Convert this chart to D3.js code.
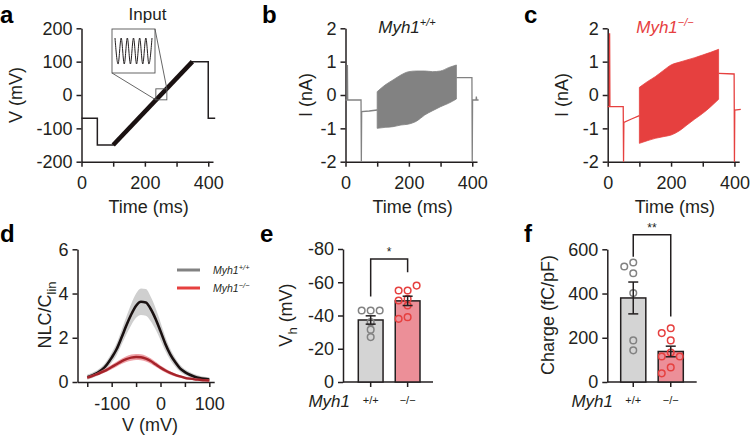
<!DOCTYPE html>
<html><head><meta charset="utf-8">
<script src="https://cdn.jsdelivr.net/npm/d3@7"></script>
<style>
body{margin:0;background:#fff;}
svg text{font-family:"Liberation Sans", Arial, sans-serif;}
</style></head><body>
<svg id="c" width="750" height="440"></svg>
<script>
// ---------- DATA ----------
// panel a: command voltage
const cmdT = [0, 50, 50, 100, 350, 400, 400, 422];
const cmdV = [-70, -70, -150, -150, 100, 100, -70, -70];
const rampT = [100, 350];
const rampV = [-150, 100];
const insetWave = [1, -1, 1, -1, 1, -1, 1, -1, 1, -1, 1, -1, 1];
const zoomAt = [252, 2]; // ms, mV of the magnified spot
const aYTicks = [-200, -100, 0, 100, 200];
const timeTicks = [0, 100, 200, 300, 400];
const timeTickLabels = ["0", "", "200", "", "400"];

// panel b: Myh1+/+ current
const bPreT = [0, 5, 6, 7, 49, 50, 51, 75, 100];
const bPreI = [-0.15, -0.15, 0.9, -0.15, -0.15, -2.0, -0.5, -0.48, -0.45];
const bandT = [100, 125, 150, 175, 200, 225, 250, 275, 300, 325, 350];
const bTop = [0.1, 0.3, 0.45, 0.6, 0.7, 0.72, 0.72, 0.7, 0.72, 0.82, 0.9];
const bBot = [-1.0, -0.97, -0.95, -0.9, -0.87, -0.78, -0.6, -0.47, -0.35, -0.25, -0.12];
const bPostT = [350, 399, 400, 401, 412, 413, 414, 420];
const bPostI = [0.52, 0.52, -2.0, -0.15, -0.15, -0.05, -0.15, -0.15];

// panel c: Myh1-/- current
const cPreT = [0, 5, 6, 7, 49, 50, 51, 75, 100];
const cPreI = [-0.35, -0.35, 1.85, -0.35, -0.35, -2.0, -0.82, -0.72, -0.62];
const cTop = [0.23, 0.4, 0.55, 0.73, 0.9, 0.98, 1.05, 1.12, 1.2, 1.28, 1.37];
const cBot = [-1.45, -1.37, -1.3, -1.25, -1.2, -1.08, -0.9, -0.72, -0.55, -0.35, -0.13];
const cPostT = [350, 399, 400, 401, 420];
const cPostI = [0.65, 0.63, -2.0, -0.45, -0.43];
const iTicks = [-2, -1, 0, 1, 2];

// panel d: NLC
const dV = [-150,-140,-130,-120,-110,-100,-90,-80,-70,-60,-50,-40,-30,-20,-10,0,10,20,30,40,50,60,70,80,90,100];
const wtMean = [0.22,0.30,0.40,0.55,0.78,1.10,1.48,2.00,2.55,3.05,3.45,3.63,3.60,3.30,2.85,2.30,1.72,1.25,0.90,0.62,0.45,0.33,0.24,0.18,0.14,0.11];
const wtHi = [0.34,0.42,0.53,0.70,0.96,1.32,1.75,2.33,2.95,3.53,4.00,4.23,4.20,3.85,3.33,2.70,2.04,1.50,1.10,0.78,0.58,0.45,0.35,0.28,0.24,0.21];
const wtLo = [0.10,0.18,0.27,0.40,0.60,0.88,1.21,1.67,2.15,2.57,2.90,3.03,3.00,2.75,2.37,1.90,1.40,1.00,0.70,0.46,0.32,0.21,0.13,0.08,0.04,0.01];
const koMean = [0.20,0.27,0.35,0.45,0.55,0.68,0.80,0.93,1.03,1.10,1.13,1.12,1.06,0.95,0.80,0.65,0.52,0.41,0.32,0.25,0.19,0.15,0.12,0.10,0.08,0.07];
const koHi = [0.26,0.33,0.42,0.53,0.64,0.78,0.91,1.05,1.16,1.24,1.27,1.26,1.19,1.07,0.91,0.75,0.61,0.49,0.39,0.31,0.25,0.20,0.17,0.15,0.13,0.12];
const koLo = [0.14,0.21,0.28,0.37,0.46,0.58,0.69,0.81,0.90,0.96,0.99,0.98,0.93,0.83,0.69,0.55,0.43,0.33,0.25,0.19,0.13,0.10,0.07,0.05,0.03,0.02];
const dXTicks = [-150, -100, -50, 0, 50, 100];
const dXLabels = ["", "-100", "", "0", "", "100"];
const dYTicks = [0, 2, 4, 6];

// panels e, f
const genotypes = ["+/+", "\u2212/\u2212"];
const eMean = [-37.3, -48.8];
const eSem = [2.5, 2.8];
const eWT = [-43, -43, -43, -36, -31.5, -27];
const eKO = [-55, -55, -58, -50, -49, -46, -39, -38];
const eYTicks = [0, -20, -40, -60, -80];
const fMean = [380, 138];
const fSem = [72, 24];
const fWT = [540, 522, 492, 402, 188, 143];
const fKO = [243, 221, 188, 133, 115, 115, 66, 39];
const fYTicks = [0, 200, 400, 600];

// ---------- DRAW ----------
const INK = "#231f20", GREY = "#828282", RED = "#e6403f";
const FONT = '"Liberation Sans", Arial, sans-serif';
const svg = d3.select("#c");

function styleAxis(g, fs) {
  g.attr("font-family", FONT);
  g.select(".domain").attr("stroke", INK).attr("stroke-width", 1.5);
  g.selectAll(".tick line").attr("stroke", INK).attr("stroke-width", 1.5);
  g.selectAll(".tick text").attr("fill", INK).attr("font-size", fs);
}
function letter(txt, x, y) {
  svg.append("text").attr("x", x).attr("y", y).text(txt)
    .attr("font-size", 24).attr("font-weight", "bold").attr("fill", "#000");
}
function yTitle(x, y, build) {
  const t = svg.append("text").attr("transform", `translate(${x},${y}) rotate(-90)`)
    .attr("text-anchor", "middle").attr("dy", "0.35em").attr("font-size", 18).attr("fill", INK);
  build(t);
}
function xTitle(x, y, txt) {
  svg.append("text").attr("x", x).attr("y", y).attr("text-anchor", "middle")
    .attr("font-size", 18).attr("fill", INK).text(txt);
}
function zip(a, b) { return a.map((v, i) => [v, b[i]]); }

// ===== Panel a =====
{
  const x = d3.scaleLinear().domain([0, 415]).range([81.5, 213]);
  const y = d3.scaleLinear().domain([-200, 200]).range([161.7, 28.3]);
  svg.append("g").attr("transform", "translate(0,161.7)")
    .call(d3.axisBottom(x).tickValues(timeTicks).tickFormat((d, i) => timeTickLabels[i]).tickSize(5).tickPadding(10).tickSizeOuter(0))
    .call(g => styleAxis(g, 18));
  svg.append("g").attr("transform", "translate(81.5,0)")
    .call(d3.axisLeft(y).tickValues(aYTicks).tickFormat(d => String(d)).tickSize(5).tickPadding(4).tickSizeOuter(0))
    .call(g => styleAxis(g, 18));
  const line = d3.line().x(d => x(d[0])).y(d => y(d[1]));
  svg.append("path").datum(zip(cmdT, cmdV)).attr("d", line).attr("fill", "none").attr("stroke", INK).attr("stroke-width", 1.5);
  svg.append("path").datum(zip(rampT, rampV)).attr("d", line).attr("fill", "none").attr("stroke", "#1a1111").attr("stroke-width", 4.5);
  // inset
  const box = {l: 112, t: 29, r: 155, b: 73};
  const zx = x(zoomAt[0]), zy = y(zoomAt[1]), h = 5.5;
  const conn = "#555";
  svg.append("rect").attr("x", box.l).attr("y", box.t).attr("width", box.r - box.l).attr("height", box.b - box.t)
    .attr("fill", "#fff").attr("stroke", conn).attr("stroke-width", 0.9);
  svg.append("rect").attr("x", zx - h).attr("y", zy - h).attr("width", 2 * h).attr("height", 2 * h)
    .attr("fill", "none").attr("stroke", conn).attr("stroke-width", 0.9);
  svg.append("line").attr("x1", box.l).attr("y1", box.b).attr("x2", zx - h).attr("y2", zy + h).attr("stroke", conn).attr("stroke-width", 0.9);
  svg.append("line").attr("x1", box.r).attr("y1", box.t).attr("x2", zx + h).attr("y2", zy - h).attr("stroke", conn).attr("stroke-width", 0.9);
  const wx = d3.scaleLinear().domain([0, insetWave.length - 1]).range([box.l + 3, box.r - 3]);
  const wy = d3.scaleLinear().domain([-1, 1]).range([box.b - 9, box.t + 9]);
  svg.append("path").datum(insetWave)
    .attr("d", d3.line().x((d, i) => wx(i)).y(d => wy(d)).curve(d3.curveMonotoneX))
    .attr("fill", "none").attr("stroke", INK).attr("stroke-width", 1);
  svg.append("text").attr("x", 147.5).attr("y", 20).attr("text-anchor", "middle").attr("font-size", 17).attr("fill", INK).text("Input");
  yTitle(15.5, 95, t => t.text("V (mV)"));
  xTitle(x(212), 213, "Time (ms)");
  letter("a", 0, 23);
}

// ===== Panels b & c =====
function currentPanel(x0, preT, preI, top, bot, postT, postI, color, titleX, sup, titleColor, yLabX, lab, labX) {
  const x = d3.scaleLinear().domain([0, 415]).range([x0, x0 + 131.5]);
  const y = d3.scaleLinear().domain([-2, 2]).range([161.7, 28.3]);
  svg.append("g").attr("transform", "translate(0,161.7)")
    .call(d3.axisBottom(x).tickValues(timeTicks).tickFormat((d, i) => timeTickLabels[i]).tickSize(5).tickPadding(10).tickSizeOuter(0))
    .call(g => styleAxis(g, 18));
  svg.append("g").attr("transform", `translate(${x0},0)`)
    .call(d3.axisLeft(y).tickValues(iTicks).tickFormat(d => String(d)).tickSize(5).tickPadding(4).tickSizeOuter(0))
    .call(g => styleAxis(g, 18));
  const line = d3.line().x(d => x(d[0])).y(d => y(d[1]));
  svg.append("path").datum(zip(preT, preI)).attr("d", line).attr("fill", "none").attr("stroke", color).attr("stroke-width", 1.3);
  svg.append("path").datum(zip(postT, postI)).attr("d", line).attr("fill", "none").attr("stroke", color).attr("stroke-width", 1.3);
  svg.append("path").datum(bandT.map((t, i) => [t, top[i], bot[i]]))
    .attr("d", d3.area().x(d => x(d[0])).y0(d => y(d[2])).y1(d => y(d[1])).curve(d3.curveMonotoneX))
    .attr("fill", color).attr("stroke", color).attr("stroke-width", 0.8);
  const t = svg.append("text").attr("x", titleX).attr("y", 33).attr("text-anchor", "middle")
    .attr("font-size", 17).attr("font-style", "italic").attr("fill", titleColor);
  t.append("tspan").text("Myh1");
  t.append("tspan").attr("dy", -7).attr("font-size", 11).text(sup);
  yTitle(yLabX, 95, tt => tt.text("I (nA)"));
  xTitle(x(212), 213, "Time (ms)");
  letter(lab, labX, 23);
}
currentPanel(345.5, bPreT, bPreI, bTop, bBot, bPostT, bPostI, GREY, 407, "+/+", INK, 306, "b", 262);
currentPanel(607.7, cPreT, cPreI, cTop, cBot, cPostT, cPostI, RED, 665, "\u2212/\u2212", RED, 561.5, "c", 524);

// ===== Panel d =====
{
  const x = d3.scaleLinear().domain([-170, 110]).range([77.5, 214.2]);
  const y = d3.scaleLinear().domain([0, 6]).range([382, 249.3]);
  svg.append("g").attr("transform", "translate(0,382)")
    .call(d3.axisBottom(x).tickValues(dXTicks).tickFormat((d, i) => dXLabels[i]).tickSize(5).tickPadding(10).tickSizeOuter(0))
    .call(g => styleAxis(g, 18));
  svg.append("g").attr("transform", "translate(77.5,0)")
    .call(d3.axisLeft(y).tickValues(dYTicks).tickFormat(d => String(d)).tickSize(5).tickPadding(4).tickSizeOuter(0))
    .call(g => styleAxis(g, 18));
  const area = d3.area().x(d => x(d[0])).y0(d => y(d[2])).y1(d => y(d[1])).curve(d3.curveMonotoneX);
  const line = d3.line().x(d => x(d[0])).y(d => y(d[1])).curve(d3.curveMonotoneX);
  svg.append("path").datum(dV.map((v, i) => [v, wtHi[i], wtLo[i]])).attr("d", area).attr("fill", "#cfcfcf");
  svg.append("path").datum(zip(dV, wtMean)).attr("d", line).attr("fill", "none").attr("stroke", "#1a1111").attr("stroke-width", 2.6);
  svg.append("path").datum(dV.map((v, i) => [v, koHi[i], koLo[i]])).attr("d", area).attr("fill", "#e9838b").attr("opacity", 0.75);
  svg.append("path").datum(zip(dV, koMean)).attr("d", line).attr("fill", "none").attr("stroke", "#a6232a").attr("stroke-width", 2.4);
  // legend
  const leg = [[GREY, "+/+", 270], [RED, "\u2212/\u2212", 288]];
  leg.forEach(([c, s, yy]) => {
    svg.append("line").attr("x1", 177).attr("x2", 200).attr("y1", yy).attr("y2", yy).attr("stroke", c).attr("stroke-width", 3);
    const t = svg.append("text").attr("x", 213).attr("y", yy + 4).attr("font-size", 10.5).attr("font-style", "italic").attr("fill", INK);
    t.append("tspan").text("Myh1");
    t.append("tspan").attr("dy", -4).attr("font-size", 7.5).text(s);
  });
  yTitle(45, 315, t => {
    t.append("tspan").text("NLC/C");
    t.append("tspan").attr("dy", 5).attr("font-size", 13).text("lin");
  });
  xTitle(150, 431, "V (mV)");
  letter("d", 0, 242);
}

// ===== Panels e & f =====
function barPanel(ax, axEnd, bandRange, yDomain, yRange, ticks, means, sems, wt, ko, sig, sigTxt, yLabX, yLabBuild, myhX, lab, labX) {
  const x = d3.scaleBand().domain(genotypes).range(bandRange).paddingInner(0.33).paddingOuter(0);
  const y = d3.scaleLinear().domain(yDomain).range(yRange);
  // x axis
  const gx = svg.append("g").attr("transform", `translate(0,${yRange[0]})`)
    .call(d3.axisBottom(x).tickSize(5).tickPadding(9).tickSizeOuter(0))
    .call(g => styleAxis(g, 11));
  gx.select(".domain").remove();
  svg.append("line").attr("x1", ax).attr("x2", axEnd).attr("y1", yRange[0]).attr("y2", yRange[0]).attr("stroke", INK).attr("stroke-width", 1.5);
  svg.append("g").attr("transform", `translate(${ax},0)`)
    .call(d3.axisLeft(y).tickValues(ticks).tickFormat(d => String(d)).tickSize(5).tickPadding(4).tickSizeOuter(0))
    .call(g => styleAxis(g, 18));
  const fills = ["#d4d4d4", "#ec8f98"];
  const strokes = [GREY, RED];
  genotypes.forEach((gname, i) => {
    svg.append("rect").attr("x", x(gname)).attr("y", Math.min(y(means[i]), y(0)))
      .attr("width", x.bandwidth()).attr("height", Math.abs(y(0) - y(means[i])))
      .attr("fill", fills[i]).attr("stroke", INK).attr("stroke-width", 1.5);
  });
  // dodge scatter
  const r = 3.3, step = 9, thr = 6.6;
  [wt, ko].forEach((vals, i) => {
    const cx = x(genotypes[i]) + x.bandwidth() / 2;
    const placed = [];
    vals.forEach(v => {
      const py = y(v);
      for (const k of [0, -1, 1, -2, 2]) {
        const px = cx + k * step;
        if (placed.every(p => Math.hypot(p[0] - px, p[1] - py) >= thr)) { placed.push([px, py]); break; }
      }
    });
    svg.append("g").selectAll("circle").data(placed).join("circle")
      .attr("cx", d => d[0]).attr("cy", d => d[1]).attr("r", r)
      .attr("fill", "none").attr("stroke", strokes[i]).attr("stroke-width", 1.5);
  });
  // error bars
  genotypes.forEach((gname, i) => {
    const cx = x(gname) + x.bandwidth() / 2;
    const lo = y(means[i] - sems[i]), hi = y(means[i] + sems[i]);
    const g = svg.append("g").attr("stroke", INK).attr("stroke-width", 1.5);
    g.append("line").attr("x1", cx).attr("x2", cx).attr("y1", lo).attr("y2", hi);
    g.append("line").attr("x1", cx - 5).attr("x2", cx + 5).attr("y1", lo).attr("y2", lo);
    g.append("line").attr("x1", cx - 5).attr("x2", cx + 5).attr("y1", hi).attr("y2", hi);
  });
  // significance bracket: [top, left foot, right foot]
  const c0 = x(genotypes[0]) + x.bandwidth() / 2, c1 = x(genotypes[1]) + x.bandwidth() / 2;
  svg.append("path").attr("d", `M${c0},${y(sig[1])}V${y(sig[0])}H${c1}V${y(sig[2])}`)
    .attr("fill", "none").attr("stroke", INK).attr("stroke-width", 1.5);
  svg.append("text").attr("x", (c0 + c1) / 2).attr("y", y(sig[0]) - 3).attr("text-anchor", "middle")
    .attr("font-size", 12).attr("fill", INK).text(sigTxt);
  yTitle(yLabX, 315, yLabBuild);
  svg.append("text").attr("x", myhX).attr("y", 407).attr("text-anchor", "end").attr("font-size", 17)
    .attr("font-style", "italic").attr("fill", INK).text("Myh1");
  letter(lab, labX, 242);
}
barPanel(343, 433, [358.3, 420], [0, -80], [382, 249], eYTicks, eMean, eSem, eWT, eKO, [-74, -51.5, -66], "*",
  286, t => { t.append("tspan").text("V"); t.append("tspan").attr("dy", 5).attr("font-size", 13).text("h"); t.append("tspan").attr("dy", -5).text(" (mV)"); },
  350, "e", 260);
barPanel(607.3, 696.7, [620.7, 683.3], [0, 600], [382, 249.3], fYTicks, fMean, fSem, fWT, fKO, [666, 566, 296], "**",
  548, t => t.text("Charge (fC/pF)"), 613, "f", 524);
</script>
</body></html>
